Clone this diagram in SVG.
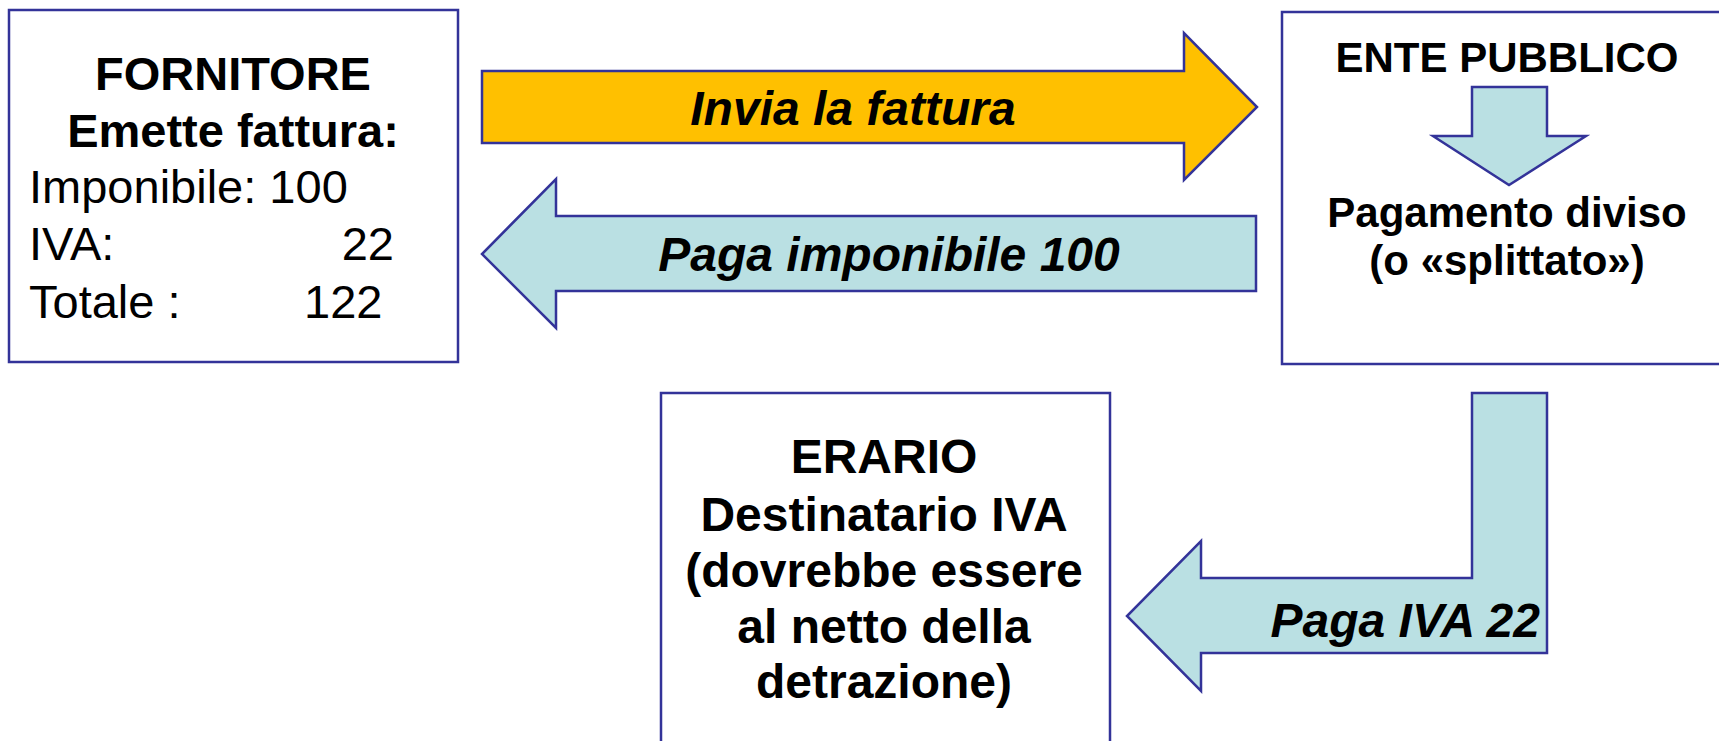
<svg xmlns="http://www.w3.org/2000/svg" width="1719" height="741" viewBox="0 0 1719 741">
<style>
.box{fill:#FFFFFF;stroke:#333399;stroke-width:2.5}
.arr{stroke:#333399;stroke-width:2.5;stroke-linejoin:miter}
.yel{fill:#FFC000}
.cy{fill:#BAE0E3}
text{font-family:"Liberation Sans",Arial,sans-serif;fill:#000000}
.b{font-weight:bold}
.bi{font-weight:bold;font-style:italic}
.c{text-anchor:middle}
</style>
<rect width="1719" height="741" fill="#FFFFFF"/>
<g id="fornitore">
<rect class="box" x="9" y="10" width="449" height="352"/>
<text class="b c" x="233" y="90" font-size="47">FORNITORE</text>
<text class="b c" x="233" y="147" font-size="47">Emette fattura:</text>
<text x="29" y="203" font-size="47">Imponibile: 100</text>
<text x="29" y="260" font-size="47">IVA:</text>
<text x="394" y="260" font-size="47" text-anchor="end">22</text>
<text x="29" y="318" font-size="47">Totale :</text>
<text x="304" y="318" font-size="47">122</text>
</g>
<g id="ente-pubblico">
<rect class="box" x="1282" y="12" width="500" height="352"/>
<text class="b c" x="1507" y="72" font-size="42">ENTE PUBBLICO</text>
<polygon class="arr cy" points="1472,87 1547,87 1547,136 1586,136 1509,185 1433,136 1472,136"/>
<text class="b c" x="1507" y="227" font-size="42">Pagamento diviso</text>
<text class="b c" x="1507" y="275" font-size="42">(o «splittato»)</text>
</g>
<g id="erario">
<rect class="box" x="661" y="393" width="449" height="400"/>
<text class="b c" x="884" y="473" font-size="48">ERARIO</text>
<text class="b c" x="884" y="531" font-size="48">Destinatario IVA</text>
<text class="b c" x="884" y="587" font-size="48">(dovrebbe essere</text>
<text class="b c" x="884" y="643" font-size="48">al netto della</text>
<text class="b c" x="884" y="698" font-size="48">detrazione)</text>
</g>
<g id="connectors">
<g id="invia-fattura">
<polygon class="arr yel" points="482,71 1184,71 1184,33 1257,107 1184,180 1184,143 482,143"/>
<text class="bi c" x="853" y="125" font-size="48">Invia la fattura</text>
</g>
<g id="paga-imponibile">
<polygon class="arr cy" points="1256,216 556,216 556,179 482,254 556,328 556,291 1256,291"/>
<text class="bi c" x="889" y="271" font-size="48">Paga imponibile 100</text>
</g>
<g id="paga-iva">
<polygon class="arr cy" points="1472,393 1547,393 1547,653 1201,653 1201,691 1127,616 1201,541 1201,578 1472,578"/>
<text class="bi" x="1540" y="637" font-size="48" text-anchor="end">Paga IVA 22</text>
</g>
</g>
</svg>
